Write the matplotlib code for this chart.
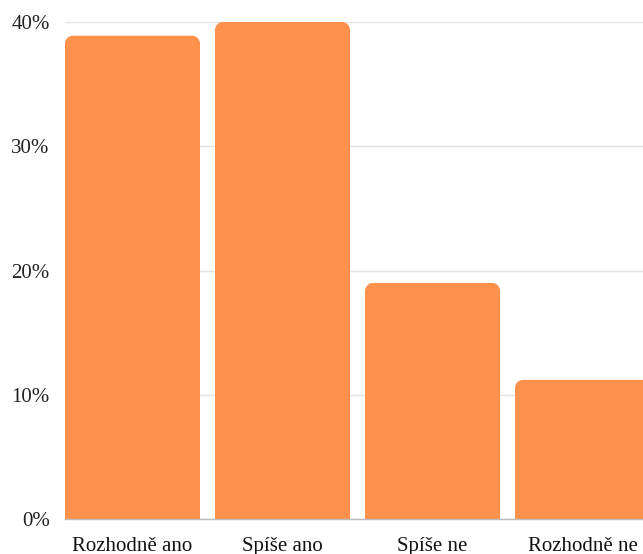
import matplotlib
matplotlib.use("Agg")
import matplotlib.pyplot as plt
from matplotlib.path import Path
from matplotlib.patches import PathPatch

categories = ["Rozhodně ano", "Spíše ano", "Spíše ne", "Rozhodně ne"]
values = [38.9, 40.0, 19.0, 11.2]
yticks = [0, 10, 20, 30, 40]
ytick_labels = ["0%", "10%", "20%", "30%", "40%"]

BAR_COLOR = "#FF914D"
GRID_COLOR = "#E3E3E3"

plt.rcParams["font.family"] = ["Liberation Serif", "DejaVu Serif"]

W, H, DPI = 643, 554, 100
fig = plt.figure(figsize=(W / DPI, H / DPI), dpi=DPI)
left_px, right_px, bottom_px, top_px = 65, 643, 519, 22
ax = fig.add_axes([left_px / W, 1 - bottom_px / H, (right_px - left_px) / W, (bottom_px - top_px) / H])

xmin, xmax = -0.45, 3.403
ymin, ymax = 0, 40
ax.set_xlim(xmin, xmax)
ax.set_ylim(ymin, ymax)

# corner radius in pixels converted to data units on each axis
radius_px = 8
rx = radius_px * (xmax - xmin) / (right_px - left_px)
ry = radius_px * (ymax - ymin) / (bottom_px - top_px)
width = 0.9


def rounded_bar(x, h):
    x0, x1 = x - width / 2, x + width / 2
    k = 0.5523
    verts = [
        (x0, 0), (x0, h - ry),
        (x0, h - ry + k * ry), (x0 + rx - k * rx, h), (x0 + rx, h),
        (x1 - rx, h),
        (x1 - rx + k * rx, h), (x1, h - ry + k * ry), (x1, h - ry),
        (x1, 0), (x0, 0),
    ]
    codes = [Path.MOVETO, Path.LINETO,
             Path.CURVE4, Path.CURVE4, Path.CURVE4,
             Path.LINETO,
             Path.CURVE4, Path.CURVE4, Path.CURVE4,
             Path.LINETO, Path.CLOSEPOLY]
    return PathPatch(Path(verts, codes), facecolor=BAR_COLOR, edgecolor="none", zorder=3, clip_on=False)


for i, v in enumerate(values):
    ax.add_patch(rounded_bar(i, v))

ax.set_yticks(yticks)
ax.set_yticklabels(ytick_labels)
ax.set_xticks(range(len(categories)))
ax.set_xticklabels(categories)
ax.tick_params(axis="y", length=0, pad=11, labelsize=15, labelcolor="#222222")
ax.tick_params(axis="x", length=0, pad=13, labelsize=15, labelcolor="#111111")

ax.grid(axis="y", color=GRID_COLOR, linewidth=1)
ax.set_axisbelow(True)
for side in ["top", "right", "left"]:
    ax.spines[side].set_visible(False)
ax.spines["bottom"].set_color("#BBBBBB")
ax.spines["bottom"].set_linewidth(1)
ax.spines["bottom"].set_zorder(4)

fig.savefig("out.png", dpi=DPI)
